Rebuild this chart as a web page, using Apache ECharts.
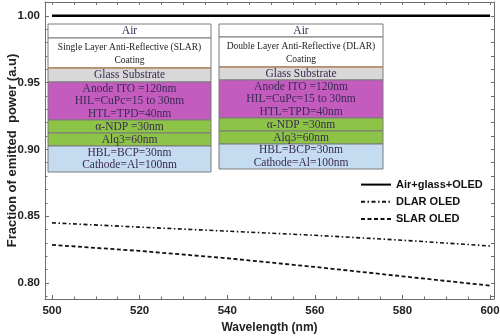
<!DOCTYPE html>
<html><head><meta charset="utf-8">
<script src="https://cdn.jsdelivr.net/npm/echarts@6/dist/echarts.min.js"></script>
<style>html,body{margin:0;padding:0;background:#fff}#c{width:500px;height:336px}</style>
</head><body><div id="c"></div>
<script>
// ---- data ----
const wavelengths = [500, 520, 540, 560, 580, 600];
const airGlassOled = [1.0, 1.0, 1.0, 1.0, 1.0, 1.0];
const dlarOled = [0.845, 0.8418, 0.8388, 0.8357, 0.832, 0.8277];
const slarOled = [0.8285, 0.824, 0.8185, 0.812, 0.805, 0.798];
const seriesNames = ['Air+glass+OLED', 'DLAR OLED', 'SLAR OLED'];
const xTickLabels = [500, 520, 540, 560, 580, 600];
const xMinorTicks = [505, 510, 515, 525, 530, 535, 545, 550, 555, 565, 570, 575, 585, 590, 595];
const yTickLabels = [0.80, 0.85, 0.90, 0.95, 1.00];
const yMinorTicks = [0.79, 0.81, 0.82, 0.83, 0.84, 0.86, 0.87, 0.88, 0.89, 0.91, 0.92, 0.93, 0.94, 0.96, 0.97, 0.98, 0.99, 1.01];
const xTopTicks = [500,505,510,515,520,525,530,535,540,545,550,555,560,565,570,575,580,585,590,595,600];
const yRightTicks = [0.79,0.80,0.81,0.82,0.83,0.84,0.85,0.86,0.87,0.88,0.89,0.90,0.91,0.92,0.93,0.94,0.95,0.96,0.97,0.98,0.99,1.00,1.01];

const slarLayers = ['Air', 'Single Layer Anti-Reflective (SLAR)\nCoating', 'Glass Substrate',
  'Anode ITO =120nm\nHIL=CuPc=15 to 30nm\nHTL=TPD=40nm', 'α-NDP =30nm', 'Alq3=60nm',
  'HBL=BCP=30nm\nCathode=Al=100nm'];
const dlarLayers = ['Air', 'Double Layer Anti-Reflective (DLAR)\nCoating', 'Glass Substrate',
  'Anode ITO =120nm\nHIL=CuPc=15 to 30nm\nHTL=TPD=40nm', 'α-NDP =30nm', 'Alq3=60nm',
  'HBL=BCP=30nm\nCathode=Al=100nm'];

// ---- styles / layout ----
const layerFills = ['#ffffff', '#ffffff', '#d8d8d8', '#c45cc0', '#8dc447', '#8dc447', '#c4dbf0'];
const textColor = '#3a2a52';
function stackGraphics(x, y0, w, heights, labels) {
  const els = [];
  let y = y0;
  heights.forEach((h, i) => {
    els.push({type: 'rect', shape: {x: x, y: y, width: w, height: h},
      style: {fill: layerFills[i], stroke: '#7a7a7a', lineWidth: 1}, z: 10});
    const small = i === 1;
    els.push({type: 'text', x: x + w / 2, y: y + h / 2 + (small ? 1 : 0), z: 11,
      style: {text: labels[i], textAlign: 'center', textVerticalAlign: 'middle', verticalAlign: 'middle',
        fontFamily: '"Liberation Serif", serif', fontSize: small ? 9.5 : 11.5,
        lineHeight: small ? 13 : 12.5, fill: small ? '#222' : textColor}});
    y += h;
  });
  let ys = y0 + heights[0] + heights[1];
  els.push({type: 'line', shape: {x1: x, y1: ys, x2: x + w, y2: ys}, style: {stroke: '#c8884a', lineWidth: 1.2}, z: 12});
  return els;
}

const chart = echarts.init(document.getElementById('c'), null, {renderer: 'canvas'});
const frameColor = '#6e6e6e';
const lblStyle = {fontFamily: 'Arial, "Liberation Sans", sans-serif', fontWeight: 'bold', fontSize: 11.5, color: '#222'};
const xMin = 498.4, xMax = 600.9, yMin = 0.788, yMax = 1.0103;
const toPairs = arr => wavelengths.map((w, i) => [w, arr[i]]);

chart.setOption({
  animation: false,
  backgroundColor: '#fff',
  grid: {left: 45, right: 6, top: 2, bottom: 37, containLabel: false, outerBoundsMode: 'none'},
  legend: {
    orient: 'vertical', left: 360, top: 179, itemWidth: 30, itemHeight: 14, itemGap: 6, padding: 0,
    itemStyle: {opacity: 0},
    textStyle: {fontFamily: 'Arial, "Liberation Sans", sans-serif', fontWeight: 'bold', fontSize: 11, color: '#111'},
    data: seriesNames
  },
  xAxis: [
    {type: 'value', position: 'bottom', min: xMin, max: xMax,
      axisLine: {lineStyle: {color: frameColor, width: 1}},
      axisTick: {inside: true, length: 4, customValues: xTickLabels, lineStyle: {color: frameColor}},
      axisLabel: {customValues: xTickLabels, margin: 6, ...lblStyle},
      splitLine: {show: false},
      name: 'Wavelength (nm)', nameLocation: 'middle', nameGap: 23, nameMoveOverlap: false,
      nameTextStyle: {fontFamily: 'Arial, "Liberation Sans", sans-serif', fontWeight: 'bold', fontSize: 12, color: '#222'}},
    {type: 'value', position: 'bottom', min: xMin, max: xMax,
      axisLine: {show: false},
      axisTick: {inside: true, length: 2.5, customValues: xMinorTicks, lineStyle: {color: frameColor}},
      axisLabel: {show: false}, splitLine: {show: false}},
    {type: 'value', position: 'top', min: xMin, max: xMax,
      axisLine: {lineStyle: {color: frameColor, width: 1}},
      axisTick: {inside: true, length: 3, customValues: xTopTicks, lineStyle: {color: frameColor}},
      axisLabel: {show: false}, splitLine: {show: false}}
  ],
  yAxis: [
    {type: 'value', position: 'left', min: yMin, max: yMax,
      axisLine: {show: true, lineStyle: {color: frameColor, width: 1}},
      axisTick: {show: true, inside: true, length: 4, customValues: yTickLabels, lineStyle: {color: frameColor}},
      axisLabel: {customValues: yTickLabels, margin: 5, formatter: v => v.toFixed(2), ...lblStyle},
      splitLine: {show: false},
      name: 'Fraction of emitted  power (a.u)', nameLocation: 'middle', nameGap: 26, nameMoveOverlap: false,
      nameTextStyle: {fontFamily: 'Arial, "Liberation Sans", sans-serif', fontWeight: 'bold', fontSize: 13, color: '#222'}},
    {type: 'value', position: 'left', min: yMin, max: yMax,
      axisLine: {show: false},
      axisTick: {show: true, inside: true, length: 2.5, customValues: yMinorTicks, lineStyle: {color: frameColor}},
      axisLabel: {show: false}, splitLine: {show: false}},
    {type: 'value', position: 'right', min: yMin, max: yMax,
      axisLine: {show: true, lineStyle: {color: frameColor, width: 1}},
      axisTick: {show: true, inside: true, length: 3, customValues: yRightTicks, lineStyle: {color: frameColor}},
      axisLabel: {show: false}, splitLine: {show: false}}
  ],
  series: [
    {name: seriesNames[0], type: 'line', data: toPairs(airGlassOled), symbol: 'none',
      lineStyle: {color: '#000', width: 2.5, type: 'solid'}, itemStyle: {color: '#000'}},
    {name: seriesNames[1], type: 'line', data: toPairs(dlarOled), symbol: 'none',
      lineStyle: {color: '#111', width: 1.6, type: [4, 2.5, 1.5, 2.5]}, itemStyle: {color: '#111'}},
    {name: seriesNames[2], type: 'line', data: toPairs(slarOled), symbol: 'none',
      lineStyle: {color: '#111', width: 1.8, type: [4, 2.5]}, itemStyle: {color: '#111'}}
  ],
  graphic: [
    ...stackGraphics(48, 24, 163, [14, 30, 14, 38, 13, 13, 26], slarLayers),
    ...stackGraphics(219, 24, 164, [13, 30, 13, 38, 13, 13, 25], dlarLayers)
  ]
});
</script>
</body></html>
